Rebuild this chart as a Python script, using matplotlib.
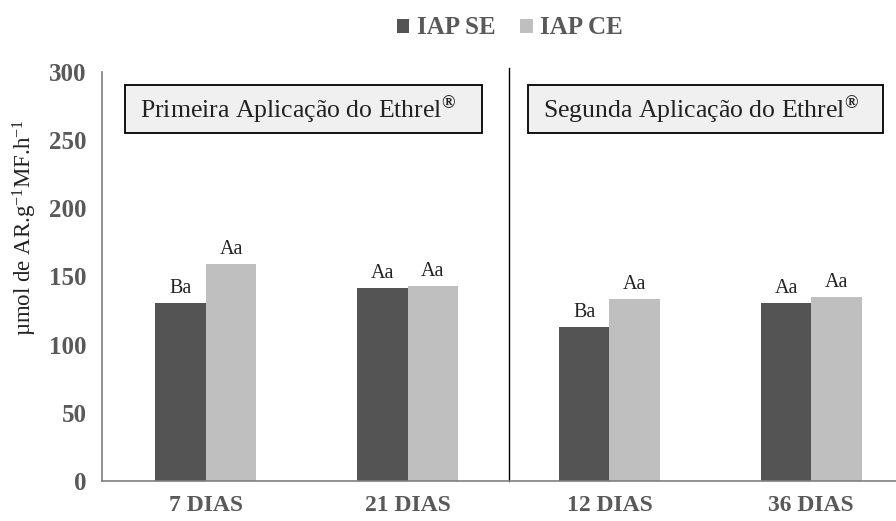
import matplotlib.pyplot as plt
from matplotlib.patches import Rectangle
import numpy as np

categories = ["7 DIAS", "21 DIAS", "12 DIAS", "36 DIAS"]
iap_se = [130.5, 141.5, 113, 130.5]
iap_ce = [159, 143, 133.5, 135]
labels_se = ["Ba", "Aa", "Ba", "Aa"]
labels_ce = ["Aa", "Aa", "Aa", "Aa"]
yticks = [0, 50, 100, 150, 200, 250, 300]
panel_titles = [r'Primeira Aplicação do Ethrel$^{\mathbf{®}}$',
                r'Segunda Aplicação do Ethrel$^{\mathbf{®}}$']

plt.rcParams['font.family'] = ['Liberation Serif', 'DejaVu Serif']
plt.rcParams['mathtext.fontset'] = 'custom'
plt.rcParams['mathtext.rm'] = 'Liberation Serif'
plt.rcParams['mathtext.it'] = 'Liberation Serif:italic'
plt.rcParams['mathtext.bf'] = 'Liberation Serif:bold'

W, H = 896, 521
fig = plt.figure(figsize=(W/100, H/100), dpi=100)
ax = fig.add_axes([102/W, 1 - 481/H, 794/W, (481-72)/H])

x = np.arange(len(categories))
w = 0.25
dark = '#545454'
light = '#bfbfbf'
b1 = ax.bar(x - w/2, iap_se, w, color=dark, label='IAP SE')
b2 = ax.bar(x + w/2, iap_ce, w, color=light, label='IAP CE')

for rect, t in zip(b1, labels_se):
    ax.text(rect.get_x() + rect.get_width()/2, rect.get_height() + 3.5, t,
            ha='center', va='bottom', fontsize=14.5, color='#222222')
for rect, t in zip(b2, labels_ce):
    ax.text(rect.get_x() + rect.get_width()/2, rect.get_height() + 3.5, t,
            ha='center', va='bottom', fontsize=14.5, color='#222222')

ax.set_xlim(-0.515, 3.42)
ax.set_ylim(0, 300)
ax.set_yticks(yticks)
ax.set_xticks(x)
ax.set_xticklabels(categories)
for lab in ax.get_yticklabels():
    lab.set_fontweight('bold')
    lab.set_color('#595959')
    lab.set_fontsize(18)
for lab in ax.get_xticklabels():
    lab.set_fontweight('bold')
    lab.set_color('#595959')
    lab.set_fontsize(17)
ax.tick_params(axis='both', length=0)
ax.tick_params(axis='y', pad=11)
ax.tick_params(axis='x', pad=10)

for s in ['top', 'right']:
    ax.spines[s].set_visible(False)
ax.spines['left'].set_color('#7f7f7f')
ax.spines['bottom'].set_color('#7f7f7f')
ax.spines['left'].set_linewidth(1.2)
ax.spines['bottom'].set_linewidth(1.2)

ax.axvline(1.5, ymin=0, ymax=1.01, color='black', linewidth=1, clip_on=False)

fig.text(25/W, 1 - 228/H, 'µmol de AR.g$^{-1}$MF.h$^{-1}$', fontsize=16.5, color='#222222',
         rotation=90, ha='center', va='center')

# panel title boxes (figure pixel geometry)
boxes = [(125, 482), (528, 883)]
for (x0, x1), title in zip(boxes, panel_titles):
    fig.add_artist(Rectangle((x0/W, 1 - 133/H), (x1 - x0)/W, 48/H,
                             transform=fig.transFigure, facecolor='#f0f0f0',
                             edgecolor='black', linewidth=1.3))
    fig.text((x0 + 15)/W, 1 - 110/H, title, fontsize=18.5, va='center', ha='left',
             color='#222222')

leg = fig.legend(handles=[b1, b2], labels=['IAP SE', 'IAP CE'], loc='center',
                 bbox_to_anchor=(510/W, 1 - 28/H), ncol=2, frameon=False,
                 prop={'weight': 'bold', 'size': 18}, handlelength=0.5, handleheight=0.5,
                 handletextpad=0.3, columnspacing=1.0)
for t in leg.get_texts():
    t.set_color('#595959')

fig.savefig('out.png', dpi=100)
